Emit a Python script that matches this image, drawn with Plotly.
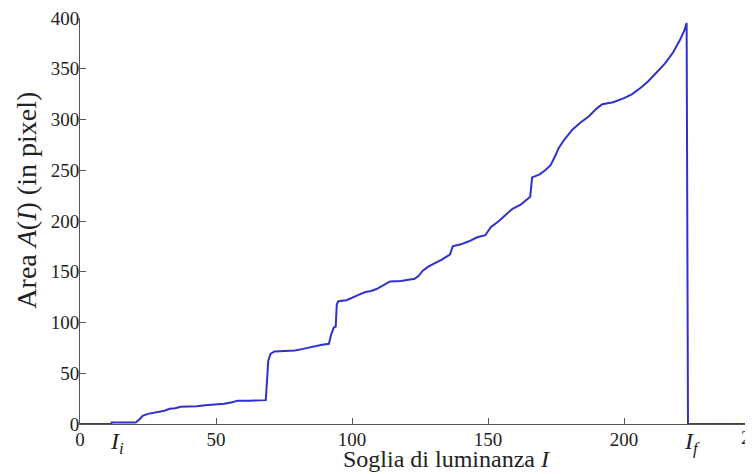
import plotly.graph_objects as go

# Curve breakpoints (luminance threshold I, area A(I) in pixels)
thr = [0, 11.5, 11.6, 20.5, 22, 23, 25, 27, 29, 31, 33, 35, 37, 40, 43, 46, 50, 53, 56, 58, 62, 68.3,
       69.2, 70, 71.5, 75, 79, 82, 86, 89, 91.5, 92.3, 93.3, 94, 94.4, 95, 98, 101, 103, 105, 107, 109,
       111, 114, 118, 121, 123, 124.5, 126, 128, 131, 133, 136, 137, 140, 143, 146, 149, 151, 154, 156,
       159, 162, 164.5, 165.5, 166.2, 169, 171, 173, 174.5, 176, 178, 181, 184, 187, 190, 192, 196, 200,
       203, 206, 209, 212, 215, 218, 220.5, 222.2, 223, 223.5, 250]
area = [0, 0, 1.5, 1.5, 5, 8, 10, 11, 12.5, 13, 15, 15.5, 17, 17, 17.5, 18.5, 19, 20, 21.5, 23, 23, 23.5,
        62, 69, 71.5, 72, 72.5, 74, 76.5, 78, 79, 88, 95, 96, 118, 121, 122, 126, 128, 130, 131, 133,
        136, 140.5, 141, 142, 143, 146, 151, 155, 159, 162, 167, 175, 177, 180, 184, 186, 194, 200, 205,
        212, 216, 222, 224, 243, 246, 250, 255, 263, 272, 280, 290, 297, 303, 311, 315, 317, 321,
        325, 331, 338, 346, 355, 366, 378, 388, 395, 0, 0]

x_ticks = [0, 50, 100, 150, 200]
y_ticks = [0, 50, 100, 150, 200, 250, 300, 350, 400]
I_i, I_f = 13.5, 224

SERIF = "Liberation Serif"
AXC = "#555555"
TXT = "#222222"

# page body has an 8px default margin -> figure is offset by 8px
PW = 673.0   # plot width in px
PH = 409.0   # plot height in px

def px(xs):  # screen x -> paper x
    return (xs - 80) / PW

def py(ys):  # screen y -> paper y
    return (424 - ys) / PH

fig = go.Figure()
fig.add_trace(go.Scatter(x=thr, y=area, mode="lines",
                         line=dict(color="#3030d0", width=2), showlegend=False,
                         cliponaxis=False))

fig.update_layout(
    width=745, height=466,
    margin=dict(l=72, r=0, t=7, b=50),
    paper_bgcolor="white", plot_bgcolor="white",
    font=dict(family=SERIF, size=19, color=TXT),
    xaxis=dict(range=[0, 247.4], tickvals=x_ticks, ticktext=[str(v) for v in x_ticks],
               ticks="inside", ticklen=6, tickcolor=AXC, showline=True, linecolor=AXC,
               linewidth=1, showgrid=False, zeroline=False, tickfont=dict(size=19),
               ticklabeloverflow="allow", ticklabelstandoff=-2),
    yaxis=dict(range=[0, 400], tickvals=y_ticks, ticks="inside", ticklen=6, tickcolor=AXC,
               showline=True, linecolor=AXC, linewidth=1, showgrid=False, zeroline=False,
               tickfont=dict(size=19), ticklabelstandoff=-4, ticklabeloverflow="allow"),
)

# y-axis title
fig.add_annotation(x=px(27), y=py(199), xref="paper", yref="paper", textangle=-90,
                   xanchor="center", yanchor="middle", showarrow=False,
                   text="Area <i>A</i>(<i>I</i>) (in pixel)", font=dict(family=SERIF, size=28, color=TXT))
# x-axis title
fig.add_annotation(x=px(447), y=py(459), xref="paper", yref="paper",
                   xanchor="center", yanchor="middle", showarrow=False,
                   text="Soglia di luminanza <i>I</i>", font=dict(family=SERIF, size=24, color=TXT))
# special threshold labels
fig.add_annotation(x=I_i, y=py(443), xref="x", yref="paper", yanchor="middle", showarrow=False,
                   text="<i>I</i><sub><i>i</i></sub>", font=dict(family=SERIF, size=24, color=TXT))
fig.add_annotation(x=I_f + 1, y=py(443), xref="x", yref="paper", yanchor="middle", showarrow=False,
                   text="<i>I</i><sub><i>f</i></sub>", font=dict(family=SERIF, size=24, color=TXT))
# partially visible "250" tick label at the cropped right edge
fig.add_annotation(x=px(753), y=py(438), xref="paper", yref="paper",
                   xanchor="right", yanchor="middle", showarrow=False,
                   text="2", font=dict(family=SERIF, size=19, color=TXT))

fig.write_html("out.html")
